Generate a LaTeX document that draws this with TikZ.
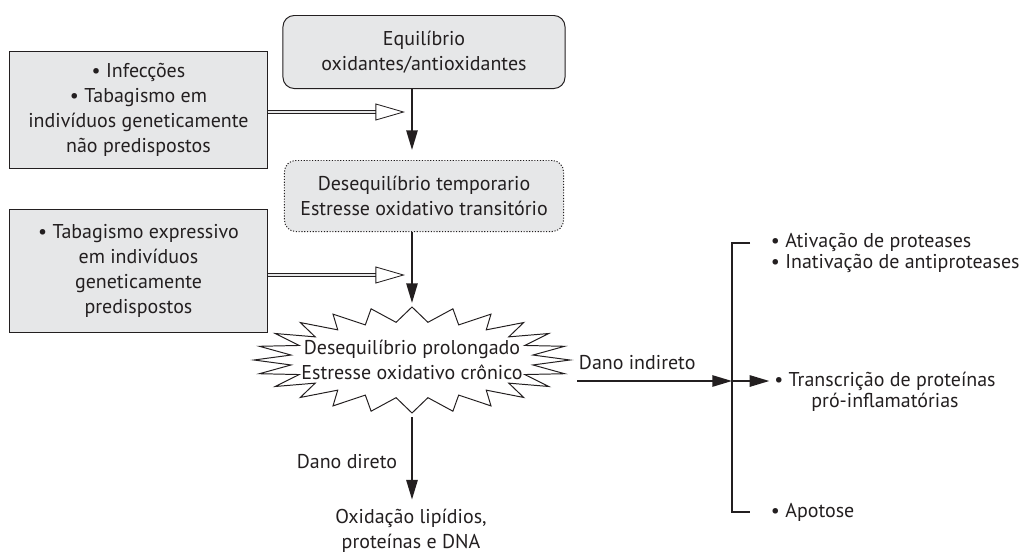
\documentclass[tikz,border=0pt]{standalone}
\usepackage{fontspec}
\setmainfont{PT Sans}
\usetikzlibrary{arrows.meta}

\definecolor{ink}{HTML}{231F20}
\definecolor{boxgray}{HTML}{E6E7E8}

\begin{document}
\begin{tikzpicture}[x=.025cm, y=-.025cm,
    txt/.style={align=center, text=ink, font=\fontsize{14.2}{17.8}\selectfont},
    list/.style={align=left, text=ink, font=\fontsize{14.2}{14.9}\selectfont},
    box/.style={txt, draw=ink, fill=boxgray, line width=.7pt, inner sep=0pt},
    arr/.style={draw=ink, line width=1.4pt, -{Triangle[length=14pt,width=8pt]}},
    hollow/.style={draw=ink, line width=.6pt, double=boxgray, double distance=1.8pt,
      -{Triangle[open,length=21pt,width=12pt]}}]

      \useasboundingbox (0,0) rectangle (1022,553);

      \begin{scope}[every node/.style={box}]
        \node[rounded corners=8pt, minimum width=7.05cm, minimum height=1.825cm] (eq) at (424,52)
          {Equilíbrio\\oxidantes/antioxidantes};
        \node[rounded corners=8pt, dash pattern=on .8pt off 1.2pt, minimum width=6.975cm, minimum height=1.775cm] (temp) at (424,196)
          {Desequilíbrio temporario\\Estresse oxidativo transitório};
        \node[minimum width=6.425cm, minimum height=2.9cm] (inf) at (138.5,110)
          {\textbullet{} Infecções\\\textbullet{} Tabagismo em\\indivíduos geneticamente\\não predispostos};
        \node[minimum width=6.425cm, minimum height=3.05cm] (tab) at (138.5,271)
          {\textbullet{} Tabagismo expressivo\\em indivíduos\\geneticamente\\predispostos};
      \end{scope}

      % burst outline
      \draw[ink, line width=.7pt, fill=white]
        plot[variable=\k, samples at={0,...,47}]
          ({412+(158-36*mod(\k,2))*cos(7.5*\k)}, {360+(53-15*mod(\k,2))*sin(7.5*\k)}) -- cycle;

      \node[txt] (burst) at (412,360) {Desequilíbrio prolongado\\Estresse oxidativo crônico};
      \node[txt, anchor=east] (dir) at (402,462) {Dano direto};
      \node[txt, inner sep=1pt] (oxi) at (411,531) {Oxidação lipídios,\\proteínas e DNA};
      \node[txt, anchor=west] (indir) at (574,363) {Dano indireto};
      \node[list, anchor=west] (ativ) at (766,253) {\textbullet{} Ativação de proteases\\\textbullet{} Inativação de antiproteases};
      \node[list, align=center] (trans) at (885,392) {\textbullet{} Transcrição de proteínas\\pró-inflamatórias};
      \node[list, anchor=west] (apo) at (766,512) {\textbullet{} Apotose};

      \coordinate (j1) at (405,112);
      \coordinate (j2) at (405,275);
      \coordinate (btop) at (412,303);
      \coordinate (bbot) at (412,417);
      \coordinate (d1) at (577,381);
      \coordinate (b1) at (732,381);
      \coordinate (bt) at (750,243);
      \coordinate (bb) at (750,512);

      \draw[arr, shorten >=.25cm] (eq.south -| btop) -- (temp.north -| btop);
      \draw[arr] (temp.south -| btop) -- (btop);
      \draw[arr, shorten >=.2cm] (bbot) -- (bbot |- oxi.north);
      \draw[hollow] (inf.east |- j1) -- (j1);
      \draw[hollow] (tab.east |- j2) -- (j2);

      \draw[arr] (d1) -- (b1);
      \draw[arr] (b1) -- (b1 -| trans.west);
      \draw[draw=ink, line width=1.4pt] (bt) -- (bt -| b1) -- (bb -| b1) -- (bb);

    \end{tikzpicture}
\end{document}
